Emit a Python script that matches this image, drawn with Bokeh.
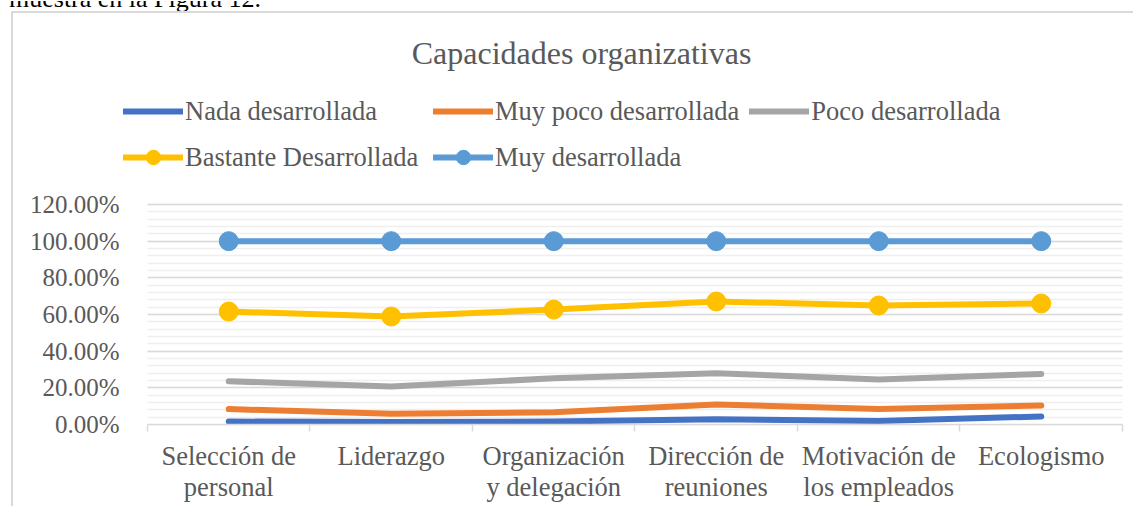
from bokeh.plotting import figure
from bokeh.layouts import column
from bokeh.models import (Legend, LegendItem, Label, FixedTicker, LinearAxis, Grid, Div,
                          NumeralTickFormatter, Range1d, BoxAnnotation)
from bokeh.embed import file_html
from bokeh.resources import INLINE

# ---- data ----
categories = ["Selección de\npersonal", "Liderazgo", "Organización\ny delegación",
              "Dirección de\nreuniones", "Motivación de\nlos empleados", "Ecologismo"]
nada = [0.016, 0.014, 0.016, 0.029, 0.019, 0.044]
muy_poco = [0.084, 0.058, 0.067, 0.109, 0.084, 0.104]
poco = [0.236, 0.207, 0.252, 0.280, 0.245, 0.276]
bastante = [0.616, 0.589, 0.627, 0.671, 0.649, 0.660]
muy = [1.0, 1.0, 1.0, 1.0, 1.0, 1.0]
series_names = ["Nada desarrollada", "Muy poco desarrollada", "Poco desarrollada",
                "Bastante Desarrollada", "Muy desarrollada"]
y_ticks = [0.0, 0.2, 0.4, 0.6, 0.8, 1.0, 1.2]
title_text = "Capacidades organizativas"
page_text = "muestra en la Figura 12."

FONT = "Liberation Serif"
TXT = "#595959"
colors = ["#4472C4", "#ED7D31", "#A5A5A5", "#FFC000", "#5B9BD5"]

n = len(categories)
x = [i + 0.5 for i in range(n)]

p = figure(width=1122, height=495, output_backend="svg", toolbar_location=None,
           x_range=Range1d(-0.14769, n), y_range=Range1d(0, 2.2418),
           min_border_left=110, min_border_right=13, min_border_top=0,
           min_border_bottom=84, x_axis_type=None, y_axis_type=None)
p.outline_line_color = None
p.background_fill_color = None
p.border_fill_color = "white"
p.margin = 0
p.styles = {"margin-left": "11px",
            "border-left": "2px solid #d9d9d9", "border-top": "2px solid #d9d9d9"}

# y axis
minor = [round(i * 0.04, 2) for i in range(31)]
yt = FixedTicker(ticks=y_ticks, minor_ticks=minor)
yax = LinearAxis(ticker=yt, formatter=NumeralTickFormatter(format="0.00%"))
yax.axis_line_color = None
yax.major_tick_line_color = None
yax.minor_tick_line_color = None
yax.major_tick_out = 0
yax.major_label_text_font = FONT
yax.major_label_text_font_size = "25px"
yax.major_label_text_color = TXT
yax.major_label_standoff = 0
p.add_layout(yax, "left")

# x axis
xax = LinearAxis(ticker=FixedTicker(ticks=x, minor_ticks=list(range(n + 1))), bounds=(0, n))
xax.major_label_overrides = {xv: c for xv, c in zip(x, categories)}
xax.axis_line_color = "#d9d9d9"
xax.axis_line_width = 1.5
xax.major_tick_line_color = None
xax.major_tick_out = 0
xax.major_tick_in = 0
xax.minor_tick_line_color = "#d9d9d9"
xax.minor_tick_line_width = 1.5
xax.minor_tick_in = 0
xax.minor_tick_out = 7
xax.major_label_text_font = FONT
xax.major_label_text_font_size = "26.5px"
xax.major_label_text_color = TXT
xax.major_label_text_line_height = 1.05
xax.major_label_standoff = 9
p.add_layout(xax, "below")

yg = Grid(dimension=1, ticker=yt)
yg.grid_line_color = "#d9d9d9"
yg.grid_line_width = 1.5
yg.minor_grid_line_color = "#efefef"
yg.minor_grid_line_width = 1.5
p.add_layout(yg)

# keep grid lines inside the plot area (left strip hosts the legend overhang)
mask = BoxAnnotation(left=-1, right=0, bottom=-0.02, top=1.22,
                     fill_color="white", fill_alpha=1, line_color=None)
p.add_layout(mask)

items = []
all_series = [nada, muy_poco, poco, bastante, muy]
for i, (name, vals) in enumerate(zip(series_names, all_series)):
    r = p.line(x, vals, line_color=colors[i], line_width=6, line_cap="round", line_join="round")
    rs = [r]
    if i >= 3:
        s = p.scatter(x, vals, size=19, fill_color=colors[i], line_color=colors[i])
        rs.append(s)
    items.append(LegendItem(label=name, renderers=rs))

legend = Legend(items=items, orientation="horizontal", ncols=3, location=(0, 249))
legend.glyph_width = 60
legend.glyph_height = 36
legend.label_standoff = 2
legend.spacing = 10
legend.label_width = 238
legend.padding = 0
legend.margin = 0
legend.border_line_color = None
legend.background_fill_alpha = 0
legend.label_text_font = FONT
legend.label_text_font_size = "26.5px"
legend.label_text_color = TXT
p.add_layout(legend, "center")

title = Label(x=2.671, y=2.029, text=title_text, text_align="center", text_baseline="middle",
              text_font=FONT, text_font_size="32px", text_color=TXT)
p.add_layout(title)

# document text above the chart (only its lower part is visible in the page)
div = Div(width=1136, height=11, margin=0,
          text=('<div style="position:relative;height:11px;width:1136px;overflow:hidden">'
                '<span style="position:absolute;left:9px;top:-15px;font-family:\'Liberation Serif\';'
                'font-size:26px;line-height:1;color:#000;white-space:nowrap">'
                + page_text + '</span></div>'))

layout = column(div, p, spacing=0, margin=0)
open("out.html", "w").write(file_html(layout, INLINE))
